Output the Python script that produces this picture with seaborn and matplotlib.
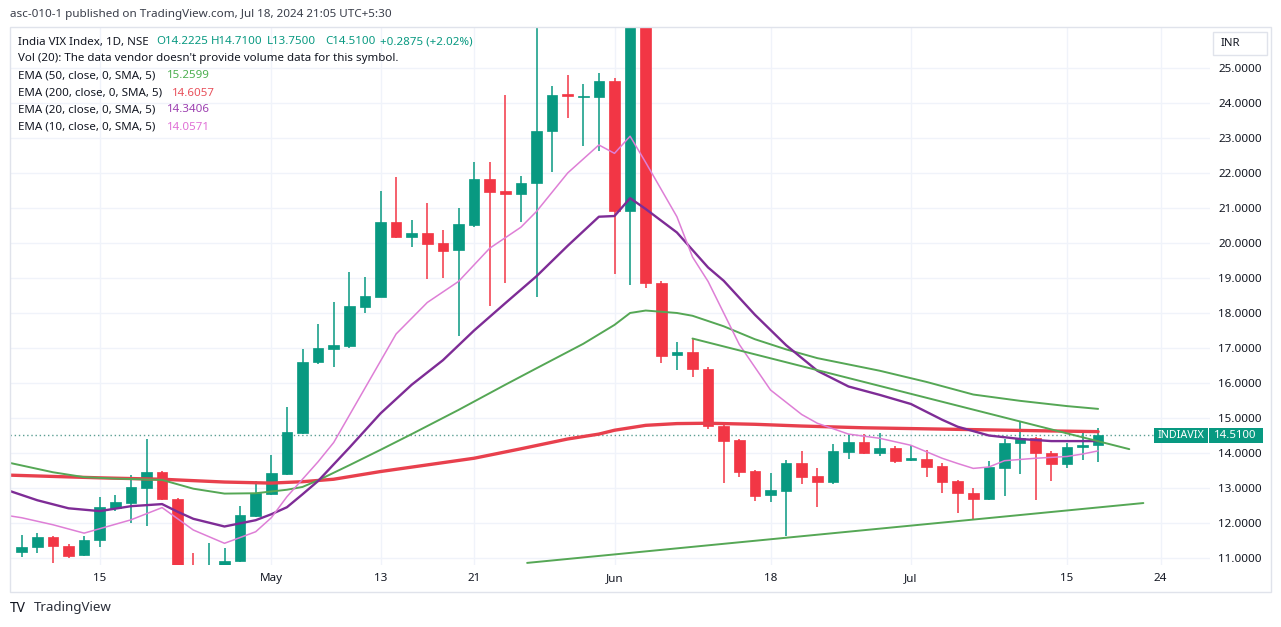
import numpy as np
import pandas as pd
import matplotlib
matplotlib.use("Agg")
import matplotlib.pyplot as plt
from matplotlib.patches import Rectangle
import seaborn as sns

# ---------------- data ----------------
# bar index 0 = Apr 5 2024 ... 69 = Jul 18 2024 (NSE trading days)
opens = [11.18, 11.30, 11.59, 11.34, 11.08, 11.50, 12.44, 12.58, 13.01, 13.46,
         12.68, 10.60, 10.45, 10.60, 10.90, 12.21, 12.82, 13.41, 14.58, 16.59,
         16.97, 17.07, 18.18, 18.47, 20.60, 20.18, 20.28, 19.99, 19.79, 20.51,
         21.83, 21.49, 21.39, 21.71, 23.20, 24.24, 24.16, 24.18, 24.63, 20.92,
         26.74, 18.87, 16.79, 16.89, 16.40, 14.78, 14.36, 13.49, 12.80, 12.92,
         13.71, 13.34, 13.16, 14.04, 14.31, 14.01, 14.13, 13.80, 13.82, 13.63,
         13.20, 12.85, 12.68, 13.58, 14.28, 14.44, 14.01, 13.69, 14.16, 14.2225]
highs = [11.66, 11.72, 11.62, 11.40, 11.62, 12.75, 12.80, 13.37, 14.39, 13.48,
         12.70, 11.13, 11.44, 11.29, 12.49, 13.20, 13.93, 15.32, 16.97, 17.69,
         18.32, 19.17, 19.04, 21.49, 21.89, 20.66, 21.14, 20.37, 20.99, 22.32,
         22.32, 24.23, 21.91, 26.50, 24.49, 24.80, 24.53, 24.85, 24.70, 31.70,
         27.00, 18.90, 17.17, 17.27, 16.45, 14.85, 14.40, 13.52, 13.42, 13.80,
         14.07, 13.58, 14.26, 14.53, 14.53, 14.57, 14.20, 14.22, 14.09, 13.72,
         13.22, 12.99, 13.77, 14.39, 14.89, 14.46, 14.05, 14.28, 14.57, 14.71]
lows = [11.03, 11.13, 10.86, 11.00, 11.06, 11.32, 12.35, 11.99, 11.91, 12.66,
        10.20, 10.30, 10.30, 10.50, 10.88, 12.18, 12.80, 13.38, 14.55, 16.55,
        16.45, 17.00, 18.01, 18.45, 20.13, 19.88, 18.96, 18.99, 17.35, 20.45,
        18.20, 18.87, 20.61, 18.47, 22.04, 23.58, 22.77, 22.63, 19.11, 18.80,
        18.71, 16.56, 16.37, 16.18, 14.68, 13.15, 13.31, 12.64, 12.59, 11.63,
        13.11, 12.47, 13.10, 13.83, 13.98, 13.91, 13.71, 13.78, 13.32, 12.85,
        12.28, 12.11, 12.65, 12.77, 13.39, 12.66, 13.21, 13.58, 13.80, 13.75]
closes = [11.32, 11.59, 11.34, 11.07, 11.51, 12.45, 12.60, 13.04, 13.46, 12.68,
          10.35, 10.40, 10.55, 10.91, 12.23, 12.85, 13.43, 14.59, 16.59, 16.99,
          17.09, 18.20, 18.49, 20.60, 20.18, 20.28, 19.97, 19.78, 20.54, 21.83,
          21.47, 21.39, 21.71, 23.20, 24.23, 24.20, 24.20, 24.63, 20.92, 26.74,
          18.87, 16.77, 16.89, 16.39, 14.77, 14.35, 13.47, 12.78, 12.94, 13.71,
          13.32, 13.16, 14.06, 14.31, 14.01, 14.15, 13.78, 13.84, 13.61, 13.18,
          12.85, 12.68, 13.59, 14.28, 14.44, 13.99, 13.69, 14.18, 14.22, 14.51]

ema10_idx = [-1, 0, 2, 4, 7, 9, 11, 13, 15, 16, 17, 18, 19, 20, 22, 24, 26, 28, 30, 31,
             32, 33, 35, 37, 38, 39, 40, 42, 43, 44, 46, 48, 49, 50, 51, 53, 55, 57, 59, 60,
             61, 62, 63, 65, 67, 68, 69]
ema10_val = [12.22, 12.15, 11.95, 11.71, 12.09, 12.44, 11.80, 11.42, 11.75, 12.15,
             12.75, 13.25, 13.75, 14.30, 15.85, 17.40, 18.30, 18.90, 19.85, 20.15,
             20.45, 20.90, 22.00, 22.80, 22.56, 23.05, 22.30, 20.75, 19.60, 18.90,
             17.10, 15.80, 15.45, 15.10, 14.85, 14.54, 14.42, 14.22, 13.85, 13.70,
             13.56, 13.60, 13.78, 13.85, 13.90, 13.97, 14.06]

ema20_idx = [-1, 1, 3, 5, 7, 9, 10, 11, 13, 15, 16, 17, 18, 19, 21, 23, 25, 27, 29, 31,
             33, 35, 37, 38, 39, 40, 42, 44, 45, 47, 49, 51, 53, 55, 57, 59, 60, 62, 64, 66, 69]
ema20_val = [12.95, 12.65, 12.42, 12.34, 12.48, 12.54, 12.32, 12.12, 11.90, 12.08,
             12.25, 12.45, 12.82, 13.20, 14.15, 15.13, 15.95, 16.65, 17.50, 18.28,
             19.05, 19.92, 20.75, 20.77, 21.28, 20.97, 20.30, 19.30, 18.92, 17.95,
             17.08, 16.35, 15.90, 15.66, 15.40, 14.95, 14.75, 14.50, 14.40, 14.34, 14.34]

ema50_idx = [-1, 2, 4, 6, 9, 11, 13, 15, 17, 18, 19, 21, 23, 25, 28, 31, 33, 36, 38, 39,
             40, 42, 43, 45, 47, 49, 51, 55, 58, 61, 64, 67, 69]
ema50_val = [13.74, 13.45, 13.31, 13.27, 13.23, 12.98, 12.84, 12.85, 12.95, 13.03,
             13.22, 13.65, 14.09, 14.54, 15.23, 15.95, 16.42, 17.12, 17.66, 18.00,
             18.07, 18.00, 17.92, 17.62, 17.25, 16.96, 16.71, 16.35, 16.03, 15.67,
             15.49, 15.34, 15.26]

ema200_idx = [-1, 5, 9, 13, 16, 18, 20, 23, 26, 29, 32, 35, 37, 38, 40, 42, 44, 47, 50, 54,
              58, 62, 66, 69]
ema200_val = [13.37, 13.29, 13.25, 13.17, 13.14, 13.18, 13.25, 13.47, 13.66, 13.85,
              14.12, 14.40, 14.54, 14.65, 14.79, 14.84, 14.85, 14.82, 14.77, 14.72,
              14.69, 14.66, 14.63, 14.61]

tl_upper_idx = [43, 71]
tl_upper_val = [17.27, 14.11]
tl_lower_idx = [32.4, 71.9]
tl_lower_val = [10.86, 12.57]

tick_idx = [5, 16, 23, 29, 38, 48, 57, 67, 73]
tick_lab = ["15", "May", "13", "21", "Jun", "18", "Jul", "15", "24"]
price_ticks = list(range(11, 26))
last_close = 14.51

# ---------------- styling ----------------
sns.set_style("white")
plt.rcParams["font.family"] = ["Noto Sans", "DejaVu Sans"]

W, H = 1281, 627
fig = plt.figure(figsize=(W / 100, H / 100), dpi=100)
fig.patch.set_facecolor("white")

def fx(x):
    return x / W

def fy(y):
    return 1 - y / H

# outer chart frame
fig.patches.append(Rectangle((fx(10), fy(592)), (1271 - 10) / W, (592 - 27) / H,
                             transform=fig.transFigure, fill=False,
                             edgecolor="#E0E3EB", linewidth=1.0, zorder=0))

ax = fig.add_axes([fx(10), fy(565), (1210 - 10) / W, (565 - 27) / H])
ax.set_facecolor("white")
for s in ax.spines.values():
    s.set_visible(False)

GREEN = "#089981"
RED = "#F23645"

df = pd.DataFrame({"o": opens, "h": highs, "l": lows, "c": closes})
df["i"] = np.arange(len(df))
df["up"] = df["c"] >= df["o"]
cols = np.where(df["up"], GREEN, RED)

# wicks
ax.vlines(df["i"], df["l"], df["h"], colors=cols, linewidth=1.1, zorder=3)
# bodies
body_bottom = np.minimum(df["o"], df["c"])
body_h = np.maximum(np.abs(df["c"] - df["o"]), 0.05)
ax.bar(df["i"], body_h, bottom=body_bottom, width=0.68, color=cols,
       edgecolor=cols, linewidth=0.5, zorder=4)

# EMA lines via seaborn
sns.lineplot(x=ema200_idx, y=ema200_val, ax=ax, color="#E8404D", linewidth=2.4,
             estimator=None, sort=False, zorder=5)
sns.lineplot(x=ema50_idx, y=ema50_val, ax=ax, color="#55A755", linewidth=1.4,
             estimator=None, sort=False, zorder=5)
sns.lineplot(x=ema20_idx, y=ema20_val, ax=ax, color="#7E2C96", linewidth=1.7,
             estimator=None, sort=False, zorder=5)
sns.lineplot(x=ema10_idx, y=ema10_val, ax=ax, color="#DE7FD6", linewidth=1.1,
             estimator=None, sort=False, zorder=5)
# trend lines
sns.lineplot(x=tl_upper_idx, y=tl_upper_val, ax=ax, color="#55A755", linewidth=1.4,
             estimator=None, sort=False, zorder=5)
sns.lineplot(x=tl_lower_idx, y=tl_lower_val, ax=ax, color="#55A755", linewidth=1.4,
             estimator=None, sort=False, zorder=5)

x_left = (10 - 21.7) / 15.6
x_right = (1210 - 21.7) / 15.6
ax.set_xlim(x_left, x_right)
ax.set_ylim(10.8, 26.17)

# last price dotted line
x_box = (1154 - 21.7) / 15.6
ax.plot([x_left, x_box], [last_close, last_close], color="#5B9E92",
        linestyle=(0, (1, 2)), linewidth=1.0, zorder=2)

# ticks & grid
ax.set_xticks(tick_idx)
ax.set_xticklabels(tick_lab)
ax.set_yticks(price_ticks)
ax.set_yticklabels([f"{v:.4f}" for v in price_ticks])
ax.yaxis.tick_right()
ax.tick_params(axis="y", length=0, pad=6, labelsize=8.4, labelcolor="#131722")
ax.tick_params(axis="x", length=0, pad=6, labelsize=8.4, labelcolor="#131722")
for lab in ax.get_xticklabels():
    if lab.get_text() in ("May", "Jun", "Jul"):
        lab.set_fontweight("semibold")
ax.grid(True, color="#F0F3FA", linewidth=1.0, zorder=0)
ax.set_axisbelow(True)
ax.set_xlabel("")
ax.set_ylabel("")
if ax.get_legend() is not None:
    ax.get_legend().remove()

# ---------------- texts ----------------
TXT = "#131722"
fig.text(fx(10), fy(14), "asc-010-1 published on TradingView.com, Jul 18, 2024 21:05 UTC+5:30",
         fontsize=8.4, color="#3A3E4A", va="center", ha="left")

fs = 8.3
fig.text(fx(18), fy(42), "India VIX Index, 1D, NSE", fontsize=fs, color=TXT, va="center")
for x, s in [(156, "O14.2225"), (211, "H14.7100"), (267, "L13.7500"),
             (325, "C14.5100"), (380, "+0.2875 (+2.02%)")]:
    fig.text(fx(x), fy(42), s, fontsize=fs, color=GREEN, va="center")
fig.text(fx(18), fy(59), "Vol (20): The data vendor doesn't provide volume data for this symbol.",
         fontsize=fs, color=TXT, va="center")
legend_rows = [
    (76, "EMA (50, close, 0, SMA, 5)", "15.2599", 167, "#4CAF50"),
    (93, "EMA (200, close, 0, SMA, 5)", "14.6057", 172, "#E8505B"),
    (110, "EMA (20, close, 0, SMA, 5)", "14.3406", 167, "#9C3FB0"),
    (127, "EMA (10, close, 0, SMA, 5)", "14.0571", 167, "#E070D6"),
]
for y, name, val, xv, c in legend_rows:
    fig.text(fx(18), fy(y), name, fontsize=fs, color=TXT, va="center")
    fig.text(fx(xv), fy(y), val, fontsize=fs, color=c, va="center")

# INR box
fig.patches.append(Rectangle((fx(1213), fy(55)), 54 / W, 23 / H, transform=fig.transFigure,
                             facecolor="white", edgecolor="#E0E3EB", linewidth=1.0, zorder=3))
fig.text(fx(1221), fy(43.5), "INR", fontsize=8.2, color=TXT, va="center", zorder=4)

# last price labels
fig.patches.append(Rectangle((fx(1154), fy(443)), 54 / W, 15 / H, transform=fig.transFigure,
                             facecolor=GREEN, edgecolor="none", zorder=6))
fig.patches.append(Rectangle((fx(1209), fy(443)), 54 / W, 15 / H, transform=fig.transFigure,
                             facecolor=GREEN, edgecolor="none", zorder=6))
fig.text(fx(1181), fy(435.5), "INDIAVIX", fontsize=7.8, color="white", fontweight="bold",
         ha="center", va="center", zorder=7)
fig.text(fx(1235.5), fy(435.5), "14.5100", fontsize=8.2, color="white", fontweight="bold",
         ha="center", va="center", zorder=7)

# TradingView mark
fig.text(fx(10), fy(608), "TV", fontsize=10, color="#131722", fontweight="heavy",
         va="center", ha="left")
fig.text(fx(34), fy(608), "TradingView", fontsize=9.6, color="#2A2E39", va="center", ha="left")

fig.savefig("out.png", dpi=100, facecolor="white")
